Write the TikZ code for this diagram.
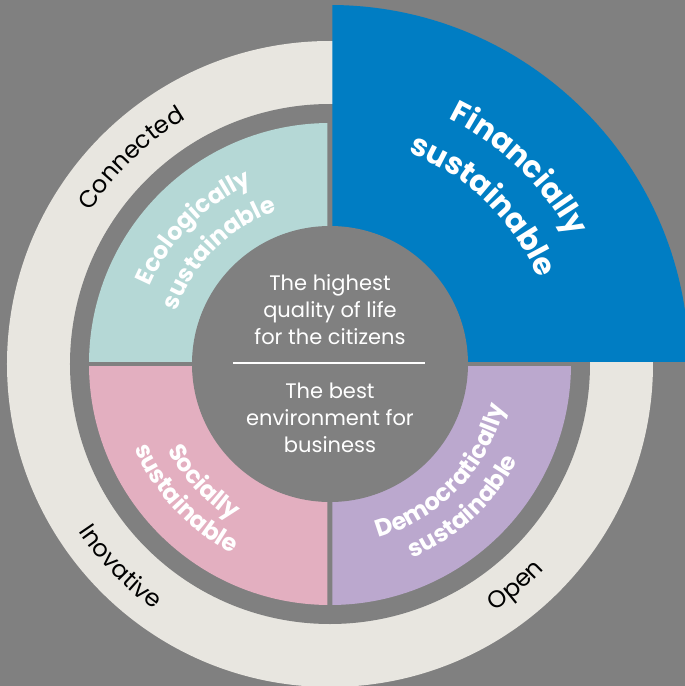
\documentclass[tikz,border=0pt]{standalone}
\usepackage{fontspec}
\setmainfont{Poppins}
\usetikzlibrary{decorations.text}
\definecolor{bggray}{RGB}{128,128,128}
\definecolor{ringbeige}{RGB}{232,230,224}
\definecolor{ecoteal}{RGB}{181,216,214}
\definecolor{socpink}{RGB}{227,175,192}
\definecolor{dempurple}{RGB}{187,168,206}
\definecolor{finblue}{RGB}{0,125,195}
\newcommand\petalfont{\fontsize{24}{24}\bfseries\selectfont\color{white}}
\newcommand\finfont{\fontsize{30.5}{30}\bfseries\selectfont\color{white}}
\newcommand\ringfont{\fontsize{24}{24}\selectfont\color{black}}

\begin{document}
\begin{tikzpicture}
[x=1pt,y=1pt,%
  every node/.style={text=white,align=center,font=\fontsize{21}{27}\selectfont},%
  arctext/.style={decorate,decoration={text along path,text align=center,text={#1}}}]
\clip (-330,-322) rectangle (355,364);
\fill[bggray] (-330,-322) rectangle (355,364);
\fill[ringbeige] (0,0) circle (323);
\fill[bggray] (0,0) circle (260);
\foreach \col/\sx/\sy in {ecoteal/-1/1,socpink/-1/-1,dempurple/1/-1}{
  \begin{scope}
    \clip (\sx*2.5,\sy*2.5) rectangle (\sx*400,\sy*400);
    \fill[\col] (0,0) circle (241);
  \end{scope}
}
\begin{scope}
  \clip (2.5,2.5) rectangle (400,400);
  \fill[finblue] (0,0) circle (359);
\end{scope}
\fill[bggray] (0,0) circle (138);
\node (quality) at (0,54) {The highest\\quality of life\\for the citizens};
\node (business) at (0,-54) {The best\\environment for\\business};
\coordinate (sepw) at (-97,1);
\coordinate (sepe) at (95,1);
\draw[white,line width=2.5] (sepw) -- (sepe);
\path[arctext={|\petalfont|Ecologically}] (180:196) arc[start angle=180,end angle=90,radius=196];
\path[arctext={|\petalfont|sustainable}] (180:162) arc[start angle=180,end angle=90,radius=162];
\path[arctext={|\finfont|Financially}] (91:272) arc[start angle=91,end angle=1,radius=272];
\path[arctext={|\finfont|sustainable}] (91:225) arc[start angle=91,end angle=1,radius=225];
\path[arctext={|\petalfont|Socially}] (178:184) arc[start angle=178,end angle=268,radius=184];
\path[arctext={|\petalfont|sustainable}] (178:213) arc[start angle=178,end angle=268,radius=213];
\path[arctext={|\petalfont|Democratically}] (271:180) arc[start angle=271,end angle=361,radius=180];
\path[arctext={|\petalfont|sustainable}] (268:211) arc[start angle=268,end angle=358,radius=211];
\path[arctext={|\ringfont|Connected}] (179:284) arc[start angle=179,end angle=89,radius=284];
\path[arctext={|\ringfont|Inovative}] (179:302) arc[start angle=179,end angle=269,radius=302];
\path[arctext={|\ringfont|Open}] (265:297) arc[start angle=265,end angle=355,radius=297];
\end{tikzpicture}
\end{document}
